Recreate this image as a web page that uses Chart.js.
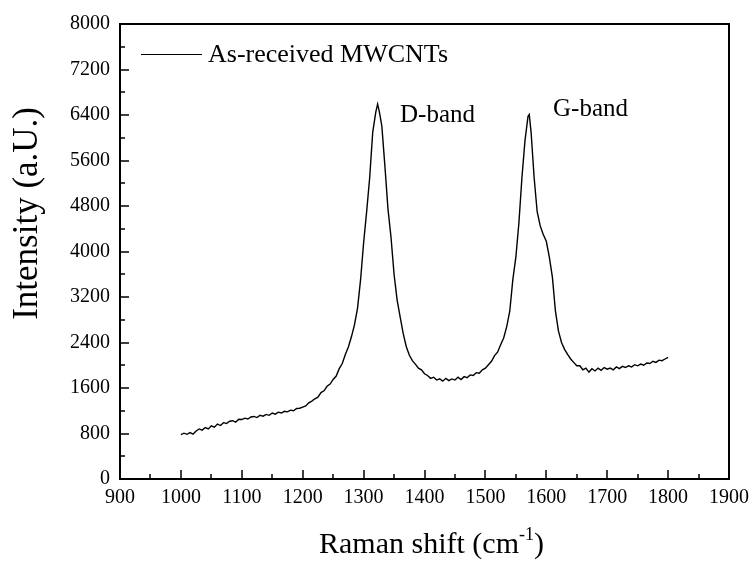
<!DOCTYPE html>
<html>
<head>
<meta charset="utf-8">
<script src="https://cdn.jsdelivr.net/npm/chart.js@4.4.1/dist/chart.umd.min.js"></script>
<style>
html,body{margin:0;padding:0;background:#fff;}
#wrap{width:756px;height:562px;}
</style>
</head>
<body>
<div id="wrap"><canvas id="raman"></canvas></div>
<script>
const SERIF = "'Liberation Serif', 'Times New Roman', serif";

// Raman spectrum, as-received MWCNTs
const shift = [
1000,1005,1010,1015,1020,1025,1030,1035,1040,1045,1050,1055,1060,1065,1070,1075,1080,1085,1090,1095,
1100,1105,1110,1115,1120,1125,1130,1135,1140,1145,1150,1155,1160,1165,1170,1175,1180,1185,1190,1195,
1200,1205,1210,1215,1220,1225,1230,1235,1240,1245,1250,1255,1260,1265,1270,1275,1280,1285,1290,1295,
1300,1305,1310,1315,1320,1323,1326,1330,1335,1340,1345,1350,1355,1360,1365,1370,1375,1380,1385,1390,
1395,1400,1405,1410,1415,1420,1425,1430,1435,1440,1445,1450,1455,1460,1465,1470,1475,1480,1485,1490,
1495,1500,1505,1510,1515,1520,1525,1530,1535,1540,1545,1550,1555,1560,1565,1570,1572,1575,1580,1585,
1590,1595,1600,1605,1610,1615,1620,1625,1630,1635,1640,1645,1650,1655,1660,1665,1670,1675,1680,1685,
1690,1695,1700,1705,1710,1715,1720,1725,1730,1735,1740,1745,1750,1755,1760,1765,1770,1775,1780,1785,
1790,1795,1800
];
const intensity = [
780,805,785,815,790,845,880,860,905,880,935,910,965,940,990,975,1015,1025,1000,1050,
1045,1070,1055,1090,1100,1080,1120,1105,1135,1120,1160,1140,1175,1160,1190,1180,1210,1200,1240,1245,
1265,1285,1340,1370,1410,1440,1520,1550,1630,1670,1750,1810,1940,2030,2190,2320,2500,2710,3000,3500,
4150,4700,5300,6100,6450,6590,6450,6200,5500,4750,4250,3600,3150,2850,2560,2330,2180,2080,2020,1950,
1920,1850,1820,1770,1790,1740,1760,1720,1770,1730,1760,1740,1790,1750,1800,1780,1830,1820,1870,1860,
1920,1950,2010,2070,2170,2230,2360,2480,2680,2950,3500,3900,4500,5300,5950,6380,6410,6100,5300,4700,
4450,4300,4180,3900,3550,2950,2600,2400,2280,2190,2110,2050,1990,1990,1920,1950,1880,1940,1900,1950,
1910,1960,1930,1950,1920,1970,1940,1980,1960,1990,1970,2010,1990,2020,2000,2040,2030,2070,2050,2090,
2080,2110,2140
];

const xRange = [900, 1900];
const yRange = [0, 8000];
const legendText = "As-received MWCNTs";
const peakLabels = ["D-band", "G-band"];
const yTitle = "Intensity (a.U.)";

// frame, inward ticks, legend, peak labels and axis titles
const decor = {
  id: "decor",
  afterDraw(chart){
    const {ctx, chartArea:a, scales:{x, y}} = chart;
    ctx.save();
    ctx.strokeStyle = "#000";
    ctx.lineWidth = 2;
    ctx.strokeRect(a.left, a.top, a.right - a.left, a.bottom - a.top);

    ctx.lineWidth = 1.5;
    ctx.beginPath();
    for(let v = xRange[0]; v <= xRange[1]; v += 50){
      const px = Math.round(x.getPixelForValue(v));
      const len = v % 100 === 0 ? 9 : 5;
      ctx.moveTo(px, a.bottom); ctx.lineTo(px, a.bottom - len);
    }
    for(let v = yRange[0]; v <= yRange[1]; v += 400){
      const py = Math.round(y.getPixelForValue(v));
      const len = v % 800 === 0 ? 9 : 5;
      ctx.moveTo(a.left, py); ctx.lineTo(a.left + len, py);
    }
    ctx.stroke();

    // legend
    ctx.lineWidth = 1;
    ctx.beginPath();
    ctx.moveTo(141, 54.5); ctx.lineTo(202, 54.5);
    ctx.stroke();
    ctx.fillStyle = "#000";
    ctx.font = "26px " + SERIF;
    ctx.textBaseline = "middle";
    ctx.textAlign = "left";
    ctx.fillText(legendText, 208, 55);

    ctx.font = "25px " + SERIF;
    ctx.fillText(peakLabels[0], 400, 115);
    ctx.fillText(peakLabels[1], 553, 109);

    // y axis title
    ctx.save();
    ctx.translate(28, 0);
    ctx.rotate(-Math.PI / 2);
    ctx.font = "35px " + SERIF;
    ctx.textAlign = "right";
    ctx.textBaseline = "middle";
    ctx.fillText(yTitle, -107, 0);
    ctx.restore();

    // x axis title with superscript
    ctx.textAlign = "left";
    ctx.textBaseline = "alphabetic";
    ctx.font = "30px " + SERIF;
    const main = "Raman shift (cm";
    const w1 = ctx.measureText(main).width;
    ctx.font = "18px " + SERIF;
    const sup = "-1";
    const w2 = ctx.measureText(sup).width;
    ctx.font = "30px " + SERIF;
    const w3 = ctx.measureText(")").width;
    const sx = (a.left + a.right) / 2 + 7 - (w1 + w2 + w3) / 2;
    const base = 553;
    ctx.fillText(main, sx, base);
    ctx.font = "18px " + SERIF;
    ctx.fillText(sup, sx + w1, base - 13);
    ctx.font = "30px " + SERIF;
    ctx.fillText(")", sx + w1 + w2, base);
    ctx.restore();
  }
};

new Chart(document.getElementById("raman"), {
  type: "line",
  data: {
    datasets: [{
      label: legendText,
      data: shift.map((s, i) => ({x: s, y: intensity[i]})),
      borderColor: "#000",
      borderWidth: 1.4,
      pointRadius: 0,
      tension: 0,
      fill: false
    }]
  },
  options: {
    responsive: true,
    maintainAspectRatio: false,
    animation: false,
    layout: {padding: {left: 0, top: 24, right: 23, bottom: 0}},
    plugins: {legend: {display: false}, tooltip: {enabled: false}},
    scales: {
      x: {
        type: "linear",
        min: xRange[0], max: xRange[1],
        grid: {display: false, drawTicks: false},
        border: {display: false},
        ticks: {stepSize: 100, color: "#000", font: {family: SERIF, size: 20}, padding: 7, maxRotation: 0,
          callback: v => String(v)},
        afterFit(scale){ scale.height = 83; }
      },
      y: {
        min: yRange[0], max: yRange[1],
        grid: {display: false, drawTicks: false},
        border: {display: false},
        ticks: {stepSize: 800, color: "#000", font: {family: SERIF, size: 20}, padding: 10,
          callback: v => String(v)},
        afterFit(scale){ scale.width = 120; }
      }
    }
  },
  plugins: [decor]
});
</script>
</body>
</html>
